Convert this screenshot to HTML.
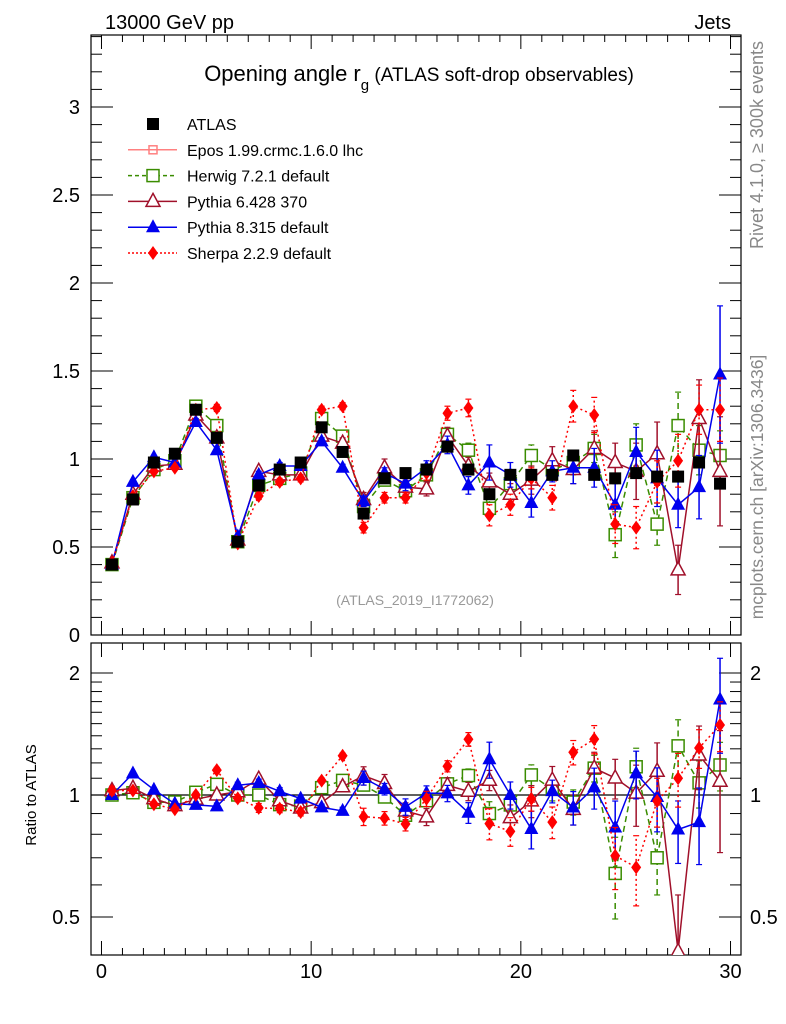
<!DOCTYPE html>
<html><head><meta charset="utf-8"><style>
html,body{margin:0;padding:0;background:#fff;}
svg{display:block;font-family:"Liberation Sans",sans-serif;}
</style></head><body>
<svg id="c" width="786" height="1024" viewBox="0 0 786 1024" xmlns="http://www.w3.org/2000/svg">
<defs>
<clipPath id="clipMain"><rect x="91" y="35" width="650" height="600"/></clipPath>
<clipPath id="clipRatio"><rect x="91" y="643" width="650" height="312"/></clipPath>
</defs>
<g id="frames">
<rect x="91" y="35" width="650" height="600" fill="none" stroke="#000" stroke-width="1.2"/>
<rect x="91" y="643" width="650" height="312" fill="none" stroke="#000" stroke-width="1.2"/>
</g>
<text x="105" y="29" font-size="20">13000 GeV pp</text>
<text x="731" y="29" font-size="20" text-anchor="end">Jets</text>
<text x="419" y="81" font-size="22" text-anchor="middle">Opening angle r<tspan font-size="15" dy="9">g</tspan><tspan font-size="19" dy="-9"> (ATLAS soft-drop observables)</tspan></text>
<text x="415" y="605" font-size="14" fill="#999" text-anchor="middle">(ATLAS_2019_I1772062)</text>
<text transform="translate(763,145) rotate(-90)" font-size="18" fill="#888" text-anchor="middle">Rivet 4.1.0, ≥ 300k events</text>
<text transform="translate(763,487) rotate(-90)" font-size="17.5" fill="#888" text-anchor="middle">mcplots.cern.ch [arXiv:1306.3436]</text>
<text transform="translate(36,795) rotate(-90)" font-size="15" text-anchor="middle">Ratio to ATLAS</text>
<g id="axes"></g>
<g id="legend"></g>
<g id="series"></g>
</svg>
<script>
const bins = [0.5,1.5,2.5,3.5,4.5,5.5,6.5,7.5,8.5,9.5,10.5,11.5,12.5,13.5,14.5,15.5,16.5,17.5,18.5,19.5,20.5,21.5,22.5,23.5,24.5,25.5,26.5,27.5,28.5,29.5];
const atlas = [0.40,0.77,0.98,1.03,1.28,1.12,0.53,0.85,0.94,0.98,1.18,1.04,0.69,0.89,0.92,0.94,1.07,0.94,0.80,0.91,0.91,0.91,1.02,0.91,0.89,0.92,0.90,0.90,0.98,0.86];
const atlasErr = [0.01,0.01,0.01,0.01,0.01,0.01,0.01,0.01,0.01,0.01,0.01,0.01,0.01,0.01,0.01,0.01,0.01,0.01,0.01,0.01,0.01,0.01,0.01,0.01,0.01,0.01,0.01,0.01,0.01,0.01];
const herwig = [0.40,0.78,0.94,0.99,1.30,1.19,0.53,0.85,0.89,0.92,1.23,1.13,0.73,0.88,0.82,0.91,1.14,1.05,0.72,0.86,1.02,0.94,0.98,1.06,0.57,1.08,0.63,1.19,1.05,1.02];
const herwigErr = [0.01,0.01,0.01,0.01,0.02,0.02,0.01,0.02,0.02,0.02,0.02,0.02,0.02,0.02,0.03,0.03,0.03,0.04,0.05,0.05,0.06,0.06,0.07,0.08,0.13,0.12,0.12,0.19,0.14,0.14];
const pythia6 = [0.41,0.80,0.96,0.97,1.25,1.12,0.54,0.93,0.91,0.91,1.13,1.09,0.77,0.95,0.84,0.83,1.13,0.96,0.87,0.80,0.88,0.99,0.94,1.06,0.98,0.93,1.03,0.37,1.23,0.93];
const pythia6Err = [0.01,0.01,0.01,0.01,0.02,0.02,0.01,0.02,0.02,0.02,0.03,0.03,0.04,0.05,0.04,0.04,0.05,0.05,0.05,0.06,0.08,0.08,0.08,0.10,0.11,0.16,0.18,0.14,0.22,0.31];
const pythia8 = [0.40,0.87,1.01,0.98,1.21,1.05,0.56,0.91,0.96,0.96,1.10,0.95,0.76,0.92,0.86,0.95,1.08,0.85,0.98,0.91,0.75,0.93,0.95,0.95,0.74,1.04,0.89,0.74,0.84,1.48];
const pythia8Err = [0.01,0.01,0.01,0.01,0.02,0.02,0.01,0.02,0.02,0.02,0.02,0.02,0.03,0.03,0.04,0.04,0.05,0.05,0.10,0.07,0.08,0.06,0.09,0.11,0.12,0.14,0.16,0.13,0.18,0.39];
const sherpa = [0.41,0.79,0.93,0.95,1.28,1.29,0.52,0.79,0.87,0.89,1.28,1.30,0.61,0.78,0.78,0.92,1.26,1.29,0.68,0.74,0.89,0.78,1.30,1.25,0.63,0.61,0.87,0.99,1.28,1.28];
const sherpaErr = [0.01,0.01,0.01,0.01,0.02,0.02,0.01,0.02,0.02,0.02,0.02,0.02,0.03,0.03,0.03,0.04,0.04,0.05,0.06,0.06,0.06,0.07,0.09,0.10,0.11,0.12,0.12,0.15,0.14,0.18];
const mainTicks = [0,0.5,1,1.5,2,2.5,3];
const mainTickLabels = ["0","0.5","1","1.5","2","2.5","3"];
const ratioTicks = [0.5,1,2];
const ratioTickLabels = ["0.5","1","2"];
const xTicks = [0,10,20,30];
const xTickLabels = ["0","10","20","30"];

const NS="http://www.w3.org/2000/svg";
const X0=91,X1=741, XMIN=-0.5, XMAX=30.5;
const MY0=635,MY1=35, MMIN=0, MMAX=600/176;
const RY0=955,RY1=643;
function sx(v){return X0+(v-XMIN)/(XMAX-XMIN)*(X1-X0);}
function sy(v){return MY0-(v-MMIN)/(MMAX-MMIN)*(MY0-MY1);}
function ry(v){return 795-Math.log2(v)*122;}
function mk(tag,attrs,parent){const e=document.createElementNS(NS,tag);for(const k in attrs)e.setAttribute(k,attrs[k]);parent.appendChild(e);return e;}

const axes=document.getElementById('axes');
for(let i=0;i<=34;i++){const v=i/10;const y=sy(v);const major=(i%5===0);const L=major?22:11;
 const t1=mk('line',{x1:X0,x2:X0+L,y1:y,y2:y,stroke:'#000','stroke-width':1},axes);
 
 const t2=mk('line',{x1:X1,x2:X1-L,y1:y,y2:y,stroke:'#000','stroke-width':1},axes);
 }
mainTicks.forEach((v,i)=>{const t=mk('text',{x:80,y:sy(v)+7,'font-size':20,'text-anchor':'end'},axes);t.textContent=mainTickLabels[i];
 });
const rMinor=[0.5,0.6,0.7,0.8,0.9,1,1.1,1.2,1.3,1.4,1.5,1.6,1.7,1.8,1.9,2];
rMinor.forEach(v=>{const y=ry(v);const major=ratioTicks.includes(v);const L=major?22:11;
 const a=mk('line',{x1:X0,x2:X0+L,y1:y,y2:y,stroke:'#000'},axes);
 const b=mk('line',{x1:X1,x2:X1-L,y1:y,y2:y,stroke:'#000'},axes);});
ratioTicks.forEach((v,i)=>{const t=mk('text',{x:80,y:ry(v)+7,'font-size':20,'text-anchor':'end'},axes);t.textContent=ratioTickLabels[i];
 
 const t2=mk('text',{x:750,y:ry(v)+7,'font-size':20},axes);t2.textContent=ratioTickLabels[i];
 });
const one=mk('line',{x1:X0,x2:X1,y1:ry(1),y2:ry(1),stroke:'#000','stroke-width':1.2},axes);

for(let v=0;v<=30;v++){const x=sx(v);const major=(v%10===0);const L=major?14:7;
 [[MY1,1],[MY0,-1],[RY1,1],[RY0,-1]].forEach(([y,d])=>{const l=mk('line',{x1:x,x2:x,y1:y,y2:y+d*L,stroke:'#000'},axes);
 });}
xTicks.forEach((v,i)=>{const t=mk('text',{x:sx(v),y:978,'font-size':20,'text-anchor':'middle'},axes);t.textContent=xTickLabels[i];
 });

function marker(g,type,x,y,color){
 if(type==='sq')mk('rect',{x:x-6,y:y-6,width:12,height:12,fill:'#000'},g);
 else if(type==='osq')mk('rect',{x:x-6,y:y-6,width:12,height:12,fill:'#fff',stroke:color,'stroke-width':1.5},g);
 else if(type==='otri')mk('path',{d:`M${x},${y-8}L${x+7},${y+5}L${x-7},${y+5}Z`,fill:'#fff',stroke:color,'stroke-width':1.5},g);
 else if(type==='tri')mk('path',{d:`M${x},${y-8}L${x+7},${y+5}L${x-7},${y+5}Z`,fill:color},g);
 else if(type==='dia')mk('path',{d:`M${x},${y-7}L${x+5},${y}L${x},${y+7}L${x-5},${y}Z`,fill:color},g);
 else if(type==='cross'){mk('rect',{x:x-4,y:y-4,width:8,height:8,fill:'none',stroke:color,'stroke-width':1.5},g);}
}
const seriesDefs=[
 {name:'herwig',vals:herwig,err:herwigErr,color:'#3a8c00',dash:'6,4',m:'osq'},
 {name:'pythia6',vals:pythia6,err:pythia6Err,color:'#a0102a',dash:'',m:'otri'},
 {name:'pythia8',vals:pythia8,err:pythia8Err,color:'#0000ee',dash:'',m:'tri'},
 {name:'sherpa',vals:sherpa,err:sherpaErr,color:'#ff0000',dash:'2,3',m:'dia'}];
const sg=document.getElementById('series');
seriesDefs.forEach(s=>{
 ['main','ratio'].forEach(panel=>{
  const fy=panel==='main'?sy:ry;
  const g=mk('g',{'clip-path':panel==='main'?'url(#clipMain)':'url(#clipRatio)'},sg);
  
  
  const vals=bins.map((b,i)=>panel==='main'?s.vals[i]:s.vals[i]/atlas[i]);
  const errs=bins.map((b,i)=>panel==='main'?s.err[i]:s.err[i]/atlas[i]);
  const pts=bins.map((b,i)=>sx(b)+','+fy(vals[i])).join(' ');
  mk('polyline',{points:pts,fill:'none',stroke:s.color,'stroke-width':1.5,'stroke-dasharray':s.dash},g);
  bins.forEach((b,i)=>{const x=sx(b);const lo=fy(Math.max(vals[i]-errs[i],0.01)),hi=fy(vals[i]+errs[i]);
   mk('line',{x1:x,x2:x,y1:lo,y2:hi,stroke:s.color,'stroke-width':1.5,'stroke-dasharray':s.dash},g);
   mk('line',{x1:x-3,x2:x+3,y1:lo,y2:lo,stroke:s.color,'stroke-width':1.2},g);
   mk('line',{x1:x-3,x2:x+3,y1:hi,y2:hi,stroke:s.color,'stroke-width':1.2},g);
   marker(g,s.m,x,fy(vals[i]),s.color);});
 });
});
const ag=mk('g',{},sg);


bins.forEach((b,i)=>{marker(ag,'sq',sx(b),sy(atlas[i]),'#000');});

const lg=document.getElementById('legend');
const legendItems=[['ATLAS','#000','','sq',false],['Epos 1.99.crmc.1.6.0 lhc','#ff8080','','cross',true],['Herwig 7.2.1 default','#3a8c00','4,3','osq',true],['Pythia 6.428 370','#a0102a','','otri',true],['Pythia 8.315 default','#0000ee','','tri',true],['Sherpa 2.2.9 default','#ff0000','2,2','dia',true]];
legendItems.forEach((it,i)=>{const y=124+i*25.8;const g=mk('g',{},lg);
 
 
 if(it[4])mk('line',{x1:128,x2:177,y1:y,y2:y,stroke:it[1],'stroke-width':1.5,'stroke-dasharray':it[2]},g);
 marker(g,it[3],153,y,it[1]);
 const t=mk('text',{x:187,y:y+6,'font-size':16},g);t.textContent=it[0];});
</script>
</body></html>
